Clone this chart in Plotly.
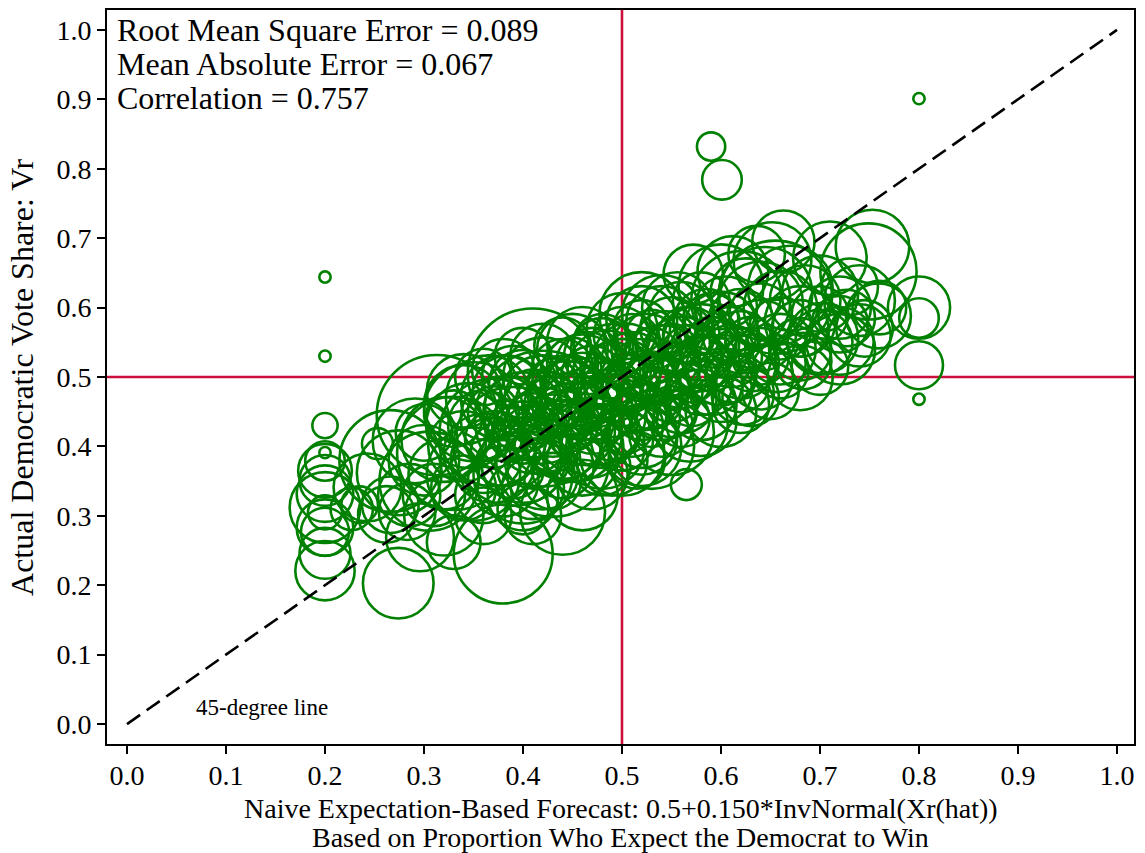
import plotly.graph_objects as go

# Naive expectation-based forecast (x), actual Democratic vote share (y),
# and number of survey respondents per race (marker weight).
forecast = [
    # races where the forecast is pinned at 0.2
    0.200, 0.200, 0.200, 0.200, 0.200, 0.200, 0.200, 0.200, 0.200, 0.200, 0.200, 0.200, 0.200, 0.200,
    # races where the forecast is pinned at 0.8
    0.800, 0.800, 0.800, 0.800, 0.800,
    0.590, 0.601, 0.565,
    0.253, 0.266, 0.243, 0.227, 0.266, 0.262, 0.283, 0.296, 0.274, 0.275, 0.235, 0.313, 0.291, 0.305, 0.285,
    0.330, 0.380, 0.320, 0.360, 0.410, 0.440, 0.400, 0.460,
    0.350, 0.330, 0.370, 0.350, 0.380, 0.410, 0.340, 0.390, 0.420, 0.430, 0.450, 0.400, 0.370, 0.420,
    0.440, 0.460, 0.470, 0.480, 0.500, 0.470, 0.520, 0.530,
    0.490, 0.515, 0.580, 0.520, 0.622,
    0.550, 0.569, 0.600, 0.620, 0.630, 0.650, 0.680, 0.700, 0.720, 0.740,
    0.450, 0.480, 0.500, 0.520, 0.540, 0.556, 0.572, 0.600, 0.620, 0.645, 0.612, 0.636, 0.520,
    0.663, 0.710, 0.753, 0.749, 0.759, 0.727, 0.720, 0.720, 0.703, 0.680, 0.670, 0.652, 0.640, 0.683,
    0.657, 0.655,
    0.300, 0.300, 0.310,
    0.320, 0.320, 0.330,
    0.340, 0.340, 0.345, 0.340,
    0.360, 0.360, 0.360, 0.365, 0.360,
    0.380, 0.380, 0.380, 0.385, 0.380,
    0.400, 0.400, 0.400, 0.400, 0.400, 0.400,
    0.420, 0.420, 0.420, 0.425, 0.420, 0.420,
    0.440, 0.440, 0.440, 0.445, 0.440, 0.440,
    0.460, 0.460, 0.460, 0.460, 0.465, 0.460,
    0.480, 0.480, 0.480, 0.480, 0.485, 0.480,
    0.500, 0.500, 0.500, 0.500, 0.505, 0.500,
    0.520, 0.520, 0.520, 0.520, 0.525, 0.520,
    0.540, 0.540, 0.540, 0.540, 0.545, 0.540,
    0.560, 0.560, 0.560, 0.560, 0.565, 0.560,
    0.580, 0.580, 0.580, 0.580, 0.585, 0.580,
    0.600, 0.600, 0.600, 0.600, 0.605,
    0.620, 0.620, 0.620, 0.620, 0.625,
    0.640, 0.640, 0.640, 0.640,
    0.660, 0.660, 0.660, 0.660,
    0.680, 0.680, 0.685,
    0.700, 0.700, 0.700,
    0.720, 0.730,
    0.740, 0.745,
    0.760,
    # densely polled core of the distribution
    0.370, 0.370,
    0.390, 0.390, 0.390, 0.390,
    0.410, 0.410, 0.410, 0.410, 0.410,
    0.430, 0.430, 0.430, 0.430, 0.430,
    0.450, 0.450, 0.450, 0.450, 0.450,
    0.470, 0.470, 0.470, 0.470, 0.470,
    0.490, 0.490, 0.490, 0.490, 0.490,
    0.510, 0.510, 0.510, 0.510, 0.510,
    0.530, 0.530, 0.530, 0.530, 0.530,
    0.550, 0.550, 0.550, 0.550, 0.550,
    0.570, 0.570, 0.570, 0.570,
    0.590, 0.590, 0.590, 0.590,
    0.610, 0.610, 0.610,
    0.630, 0.630,
]

vote_share = [
    0.644, 0.530, 0.430, 0.391, 0.379, 0.365, 0.351, 0.332, 0.312, 0.305, 0.283, 0.277, 0.246, 0.221,
    0.901, 0.600, 0.585, 0.517, 0.468,
    0.832, 0.784, 0.345,
    0.404, 0.379, 0.341, 0.310, 0.316, 0.302, 0.306, 0.269, 0.203, 0.362, 0.316, 0.445, 0.408, 0.350, 0.330,
    0.262, 0.245, 0.300, 0.300, 0.300, 0.305, 0.330, 0.330,
    0.360, 0.390, 0.420, 0.450, 0.470, 0.505, 0.460, 0.400, 0.440, 0.380, 0.420, 0.360, 0.380, 0.470,
    0.480, 0.500, 0.450, 0.400, 0.390, 0.360, 0.400, 0.400,
    0.380, 0.380, 0.437, 0.410, 0.476,
    0.420, 0.432, 0.450, 0.460, 0.470, 0.480, 0.499, 0.515, 0.540, 0.560,
    0.540, 0.550, 0.570, 0.580, 0.590, 0.600, 0.648, 0.630, 0.610, 0.620, 0.652, 0.677, 0.590,
    0.695, 0.671, 0.688, 0.652, 0.588, 0.585, 0.552, 0.576, 0.556, 0.580, 0.628, 0.667, 0.605, 0.523,
    0.519, 0.615,
    0.380, 0.420, 0.330,
    0.360, 0.410, 0.440,
    0.340, 0.400, 0.430, 0.480,
    0.330, 0.390, 0.430, 0.470, 0.500,
    0.350, 0.390, 0.440, 0.480, 0.510,
    0.380, 0.420, 0.450, 0.490, 0.530, 0.310,
    0.360, 0.400, 0.430, 0.460, 0.500, 0.530,
    0.370, 0.410, 0.440, 0.470, 0.510, 0.545,
    0.380, 0.420, 0.450, 0.480, 0.520, 0.550,
    0.370, 0.420, 0.450, 0.480, 0.510, 0.540,
    0.410, 0.440, 0.470, 0.500, 0.530, 0.560,
    0.420, 0.450, 0.480, 0.510, 0.540, 0.570,
    0.430, 0.460, 0.490, 0.520, 0.550, 0.580,
    0.440, 0.470, 0.500, 0.530, 0.560, 0.590,
    0.460, 0.490, 0.520, 0.550, 0.580, 0.610,
    0.480, 0.510, 0.540, 0.570, 0.600,
    0.490, 0.520, 0.550, 0.580, 0.620,
    0.500, 0.530, 0.560, 0.590,
    0.510, 0.540, 0.570, 0.600,
    0.540, 0.570, 0.610,
    0.550, 0.590, 0.620,
    0.600, 0.630,
    0.610, 0.570,
    0.600,
    0.410, 0.450,
    0.370, 0.420, 0.460, 0.500,
    0.380, 0.410, 0.440, 0.470, 0.340,
    0.400, 0.430, 0.460, 0.490, 0.350,
    0.390, 0.430, 0.460, 0.490, 0.520,
    0.400, 0.430, 0.470, 0.500, 0.530,
    0.420, 0.450, 0.480, 0.510, 0.540,
    0.430, 0.460, 0.490, 0.520, 0.550,
    0.440, 0.470, 0.500, 0.530, 0.560,
    0.450, 0.480, 0.510, 0.540, 0.570,
    0.470, 0.500, 0.530, 0.560,
    0.490, 0.520, 0.550, 0.580,
    0.500, 0.530, 0.560,
    0.520, 0.550,
]

respondents = [
    4, 4, 20, 4, 49, 90, 81, 100, 156, 36, 100, 72, 81, 110,
    4, 121, 49, 72, 4,
    25, 49, 30,
    30, 324, 144, 56, 100, 100, 100, 144, 156, 225, 42, 452, 225, 306, 121,
    90, 306, 196, 100, 100, 225, 156, 156,
    272, 400, 361, 306, 225, 529, 196, 441, 576, 400, 306, 306, 225, 225,
    156, 225, 361, 225, 225, 156, 196, 225,
    156, 100, 156, 156, 121,
    225, 176, 156, 100, 100, 100, 132, 100, 156, 121,
    156, 100, 156, 156, 196, 156, 110, 225, 306, 272, 156, 100, 225,
    121, 169, 169, 289, 132, 100, 144, 100, 156, 156, 225, 189, 225, 100,
    100, 400,
    156, 100, 121,
    156, 225, 100,
    132, 156, 225, 169,
    100, 196, 156, 225, 100,
    156, 132, 225, 156, 121,
    225, 121, 196, 144, 100, 81,
    156, 100, 182, 132, 196, 132,
    121, 196, 100, 169, 121, 100,
    156, 132, 100, 182, 121, 156,
    100, 156, 121, 100, 196, 121,
    121, 156, 100, 182, 132, 100,
    156, 100, 196, 121, 156, 100,
    121, 156, 100, 182, 121, 156,
    100, 156, 121, 196, 100, 132,
    156, 121, 100, 182, 132, 100,
    121, 156, 100, 169, 121,
    100, 156, 121, 132, 156,
    132, 100, 156, 121,
    100, 156, 121, 169,
    121, 100, 156,
    132, 100, 182,
    121, 100,
    156, 100,
    90,
    100, 81,
    121, 81, 100, 121,
    100, 144, 81, 100, 121,
    81, 121, 100, 81, 100,
    100, 81, 121, 100, 81,
    121, 100, 81, 121, 100,
    100, 81, 121, 100, 81,
    121, 100, 81, 121, 100,
    100, 121, 81, 100, 81,
    81, 121, 100, 81, 121,
    100, 81, 121, 100,
    121, 100, 81, 100,
    81, 121, 100,
    100, 81,
]

diag = [0.0, 1.0]
ticks = [0.0, 0.1, 0.2, 0.3, 0.4, 0.5, 0.6, 0.7, 0.8, 0.9, 1.0]
tick_labels = ["0.0", "0.1", "0.2", "0.3", "0.4", "0.5", "0.6", "0.7", "0.8", "0.9", "1.0"]
stats_lines = [
    "Root Mean Square Error = 0.089",
    "Mean Absolute Error = 0.067",
    "Correlation = 0.757",
]

SERIF = "Liberation Serif, Times New Roman, serif"
GREEN = "rgb(0,128,0)"
RED = "rgb(204,16,60)"

fig = go.Figure()

fig.add_trace(go.Scatter(
    x=forecast, y=vote_share, mode="markers",
    marker=dict(
        symbol="circle-open", color=GREEN, size=respondents, opacity=1,
        sizemode="area", sizeref=1 / 16, sizemin=2,
        line=dict(color=GREEN, width=2.6),
    ),
    hoverinfo="skip", showlegend=False,
))

fig.add_trace(go.Scatter(
    x=diag, y=diag, mode="lines",
    line=dict(color="black", width=2.6, dash="16px,8px"),
    hoverinfo="skip", showlegend=False,
))

# reference lines at 0.5 on both axes
fig.add_shape(type="line", xref="x", yref="paper", x0=0.5, x1=0.5, y0=0, y1=1,
              line=dict(color=RED, width=2.6), layer="below")
fig.add_shape(type="line", xref="paper", yref="y", x0=0, x1=1, y0=0.5, y1=0.5,
              line=dict(color=RED, width=2.6), layer="below")

axis_common = dict(
    tickvals=ticks, ticktext=tick_labels, ticks="outside", ticklen=8,
    tickwidth=1.6, tickcolor="black", showgrid=False, zeroline=False,
    showline=True, linecolor="black", linewidth=2, mirror=True,
    tickfont=dict(family=SERIF, size=28, color="black"),
)

fig.update_layout(
    width=1145, height=853,
    margin=dict(l=107, r=11, t=8, b=109),
    paper_bgcolor="white", plot_bgcolor="white",
    xaxis=dict(range=[-0.0202, 1.0172], ticklabelstandoff=-3, **axis_common),
    yaxis=dict(range=[-0.0287, 1.0287], **axis_common),
)

for i, line in enumerate(stats_lines):
    fig.add_annotation(
        xref="paper", yref="paper", x=0.0075, y=0.973 - i * 0.0462,
        xanchor="left", yanchor="middle", showarrow=False, text=line,
        font=dict(family=SERIF, size=32, color="black"),
    )

fig.add_annotation(
    xref="x", yref="y", x=0.1364, y=0.0244, showarrow=False,
    text="45-degree line", xanchor="center", yanchor="middle",
    font=dict(family=SERIF, size=23, color="black"),
)

fig.add_annotation(
    xref="paper", yref="paper", x=0.5, y=-0.0875, showarrow=False,
    text="Naive Expectation-Based Forecast: 0.5+0.150*InvNormal(Xr(hat))",
    xanchor="center", yanchor="middle",
    font=dict(family=SERIF, size=28, color="black"),
)
fig.add_annotation(
    xref="paper", yref="paper", x=0.5, y=-0.1275, showarrow=False,
    text="Based on Proportion Who Expect the Democrat to Win",
    xanchor="center", yanchor="middle",
    font=dict(family=SERIF, size=28, color="black"),
)
fig.add_annotation(
    xref="paper", yref="paper", x=-0.0828, y=0.5, showarrow=False,
    text="Actual Democratic Vote Share: Vr", textangle=-90,
    xanchor="center", yanchor="middle",
    font=dict(family=SERIF, size=32, color="black"),
)

fig.write_html("out.html")
